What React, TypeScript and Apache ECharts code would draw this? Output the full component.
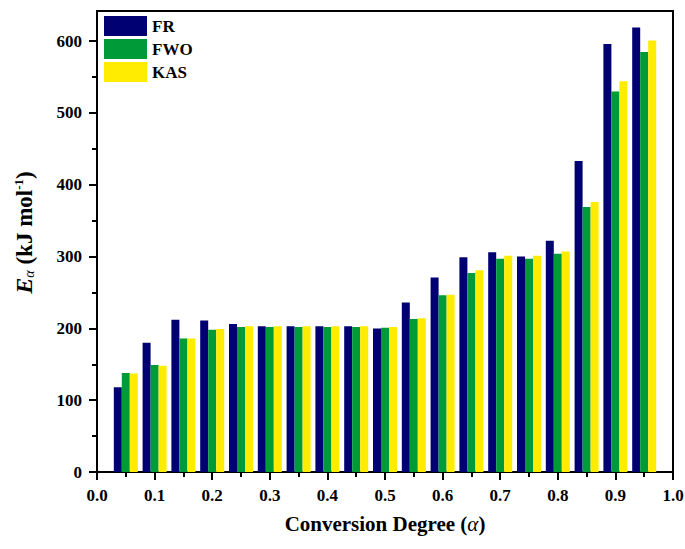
import React, { useEffect, useRef } from "react";
import * as echarts from "echarts";

const alphas = [0.05, 0.1, 0.15, 0.2, 0.25, 0.3, 0.35, 0.4, 0.45, 0.5, 0.55, 0.6, 0.65, 0.7, 0.75, 0.8, 0.85, 0.9, 0.95];
const frValues = [118, 180, 212, 211, 206, 203, 203, 203, 203, 200, 236, 271, 299, 306, 300, 322, 433, 596, 619];
const fwoValues = [138, 149, 186, 198, 202, 202, 202, 202, 202, 201, 213, 246, 277, 297, 297, 304, 369, 530, 585];
const kasValues = [137, 148, 186, 199, 203, 203, 203, 203, 203, 202, 214, 247, 281, 301, 301, 307, 376, 544, 601];
const seriesNames = ["FR", "FWO", "KAS"];
const seriesColors = ["#000072", "#009A38", "#FFEC00"];
const xTicks = [0, 0.1, 0.2, 0.3, 0.4, 0.5, 0.6, 0.7, 0.8, 0.9, 1.0];
const yTicks = [0, 100, 200, 300, 400, 500, 600];
const yMinorTicks = [50, 150, 250, 350, 450, 550];

const FONT = "'Liberation Serif', 'Times New Roman', serif";

export default function App() {
  const ref = useRef<HTMLDivElement>(null);
  useEffect(() => {
    if (!ref.current) return;
    const chart = echarts.init(ref.current, undefined, { renderer: "svg" });
    const all = [frValues, fwoValues, kasValues];
    const yMax = 642;
    chart.setOption({
      animation: false,
      backgroundColor: "#fff",
      grid: {
        left: 97,
        right: 12,
        top: 11,
        bottom: 77,
        show: true,
        borderColor: "#000",
        borderWidth: 2,
        outerBoundsMode: "none",
      },
      legend: {
        left: 99,
        top: 11,
        orient: "vertical",
        icon: "rect",
        itemWidth: 43,
        itemHeight: 20,
        itemGap: 3,
        textStyle: { fontFamily: FONT, fontWeight: "bold", fontSize: 17, color: "#000" },
        data: seriesNames,
      },
      xAxis: {
        type: "value",
        min: 0,
        max: 1,
        interval: 0.1,
        splitLine: { show: false },
        axisLine: { lineStyle: { color: "#000", width: 2 } },
        axisTick: { show: true, length: 8, lineStyle: { color: "#000", width: 2 } },
        minorTick: { show: true, splitNumber: 2, length: 5, lineStyle: { color: "#000", width: 2 } },
        axisLabel: {
          margin: 15,
          fontFamily: FONT,
          fontWeight: "bold",
          fontSize: 17,
          color: "#000",
          customValues: xTicks,
          formatter: (v: number) => v.toFixed(1),
        },
        name: "{m|Conversion Degree (}{a|α}{m|)}",
        nameLocation: "middle",
        nameGap: 41,
        nameTextStyle: {
          fontFamily: FONT,
          fontWeight: "bold",
          fontSize: 21,
          color: "#000",
          rich: {
            m: { fontFamily: FONT, fontWeight: "bold", fontSize: 21, color: "#000" },
            a: { fontFamily: FONT, fontStyle: "italic", fontWeight: "normal", fontSize: 21, color: "#000" },
          },
        },
      },
      yAxis: [
        {
          type: "value",
          min: 0,
          max: yMax,
          interval: 100,
          splitLine: { show: false },
          axisLine: { show: true, lineStyle: { color: "#000", width: 2 } },
          axisTick: { show: true, length: 8, customValues: yTicks, lineStyle: { color: "#000", width: 2 } },
          axisLabel: {
            margin: 15,
            fontFamily: FONT,
            fontWeight: "bold",
            fontSize: 17,
            color: "#000",
            customValues: yTicks,
          },
          name: "{e|E}{s|α} {m|(kJ mol}{p|-1}{m|)}",
          nameLocation: "middle",
          nameRotate: 90,
          nameGap: 61,
          nameTextStyle: {
            fontFamily: FONT,
            fontWeight: "bold",
            fontSize: 23,
            color: "#000",
            padding: [0, 0, 0, 18],
            rich: {
              e: { fontFamily: FONT, fontStyle: "italic", fontWeight: "bold", fontSize: 24, color: "#000" },
              s: { fontFamily: FONT, fontStyle: "italic", fontWeight: "normal", fontSize: 14, color: "#000", verticalAlign: "bottom" },
              m: { fontFamily: FONT, fontWeight: "bold", fontSize: 23, color: "#000" },
              p: { fontFamily: FONT, fontWeight: "bold", fontSize: 13, color: "#000", verticalAlign: "top" },
            },
          },
        },
        {
          type: "value",
          min: 0,
          max: yMax,
          position: "left",
          splitLine: { show: false },
          axisLine: { show: false },
          axisLabel: { show: false },
          axisTick: { show: true, length: 5, customValues: yMinorTicks, lineStyle: { color: "#000", width: 2 } },
        },
      ],
      series: seriesNames.map((name, i) => ({
        name,
        type: "bar",
        yAxisIndex: 0,
        barWidth: 8,
        barGap: "0%",
        itemStyle: { color: seriesColors[i] },
        data: alphas.map((a, j) => [a, all[i][j]]),
      })),
    });
    return () => chart.dispose();
  }, []);
  return <div ref={ref} style={{ position: "absolute", left: 0, top: 0, width: 685, height: 549 }} />;
}
